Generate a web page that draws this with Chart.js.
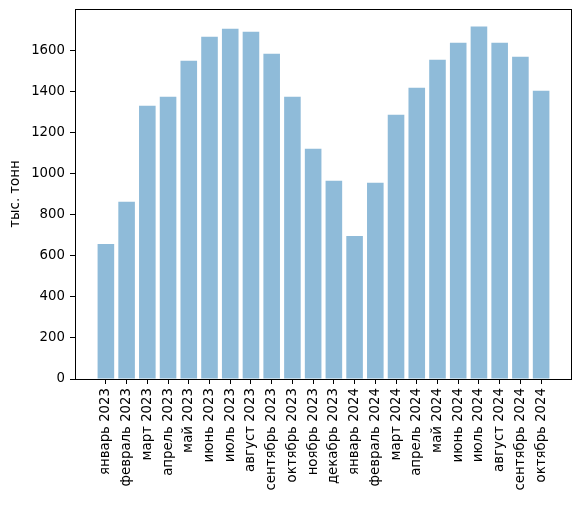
<!DOCTYPE html>
<html>
<head>
<meta charset="utf-8">
<script src="https://cdn.jsdelivr.net/npm/chart.js@4/dist/chart.umd.min.js"></script>
<style>
  body { margin: 0; background: #fff; }
  canvas { display: block; }
</style>
</head>
<body>
<canvas id="chart" width="580" height="506"></canvas>
<script>
// Months on the x axis
const months = [
  'январь 2023', 'февраль 2023', 'март 2023', 'апрель 2023', 'май 2023', 'июнь 2023',
  'июль 2023', 'август 2023', 'сентябрь 2023', 'октябрь 2023', 'ноябрь 2023', 'декабрь 2023',
  'январь 2024', 'февраль 2024', 'март 2024', 'апрель 2024', 'май 2024', 'июнь 2024',
  'июль 2024', 'август 2024', 'сентябрь 2024', 'октябрь 2024'
];
// Values, тыс. тонн
const volumes = [
  657, 862, 1329, 1373, 1548, 1665, 1704, 1689, 1582, 1373, 1120, 964,
  696, 954, 1285, 1417, 1553, 1636, 1714, 1636, 1567, 1402
];
const yTicks = [0, 200, 400, 600, 800, 1000, 1200, 1400, 1600];

const FONT = { family: 'DejaVu Sans', size: 13.3 };

// Draw the full box round the plot area, like matplotlib spines
const frame = {
  id: 'frame',
  afterDatasetsDraw(chart) {
    const { ctx, chartArea: a } = chart;
    ctx.save();
    ctx.strokeStyle = '#000';
    ctx.lineWidth = 1;
    ctx.strokeRect(a.left + 0.5, a.top + 0.5, a.right - a.left - 1, a.bottom - a.top);
    ctx.restore();
  }
};

new Chart(document.getElementById('chart'), {
  type: 'bar',
  data: {
    datasets: [{
      data: volumes.map((v, i) => ({ x: i, y: v })),
      backgroundColor: 'rgba(31, 119, 180, 0.5)',
      borderWidth: 0,
      barPercentage: 0.8,
      categoryPercentage: 1.0
    }]
  },
  options: {
    responsive: false,
    animation: false,
    layout: { padding: { left: 0, right: 8, top: 9, bottom: 0 } },
    plugins: { legend: { display: false }, tooltip: { enabled: false } },
    scales: {
      x: {
        type: 'linear',
        offset: false,
        min: -1.49,
        max: 22.49,
        afterBuildTicks: (scale) => { scale.ticks = months.map((_, i) => ({ value: i })); },
        afterFit: (scale) => {
          scale.height = 127;
          scale.paddingLeft = 0;
          scale.paddingRight = 0;
        },
        border: { display: false },
        grid: { offset: false, drawOnChartArea: false, drawTicks: true, tickLength: 5, color: '#000' },
        ticks: {
          autoSkip: false,
          minRotation: 90,
          maxRotation: 90,
          padding: 4,
          color: '#000',
          font: FONT,
          callback: (value) => months[value]
        }
      },
      y: {
        min: 0,
        max: 1799.7,
        afterBuildTicks: (scale) => { scale.ticks = yTicks.map(v => ({ value: v })); },
        afterFit: (scale) => {
          scale.width = 75;
          scale.paddingTop = 0;
          scale.paddingBottom = 0;
        },
        border: { display: false },
        grid: { drawOnChartArea: false, drawTicks: true, tickLength: 5, color: '#000' },
        ticks: { padding: 5, color: '#000', font: FONT, callback: (value) => String(value) },
        title: {
          display: true,
          text: 'тыс. тонн',
          color: '#000',
          font: FONT,
          padding: { top: 8, bottom: 4 }
        }
      }
    }
  },
  plugins: [frame]
});
</script>
</body>
</html>
